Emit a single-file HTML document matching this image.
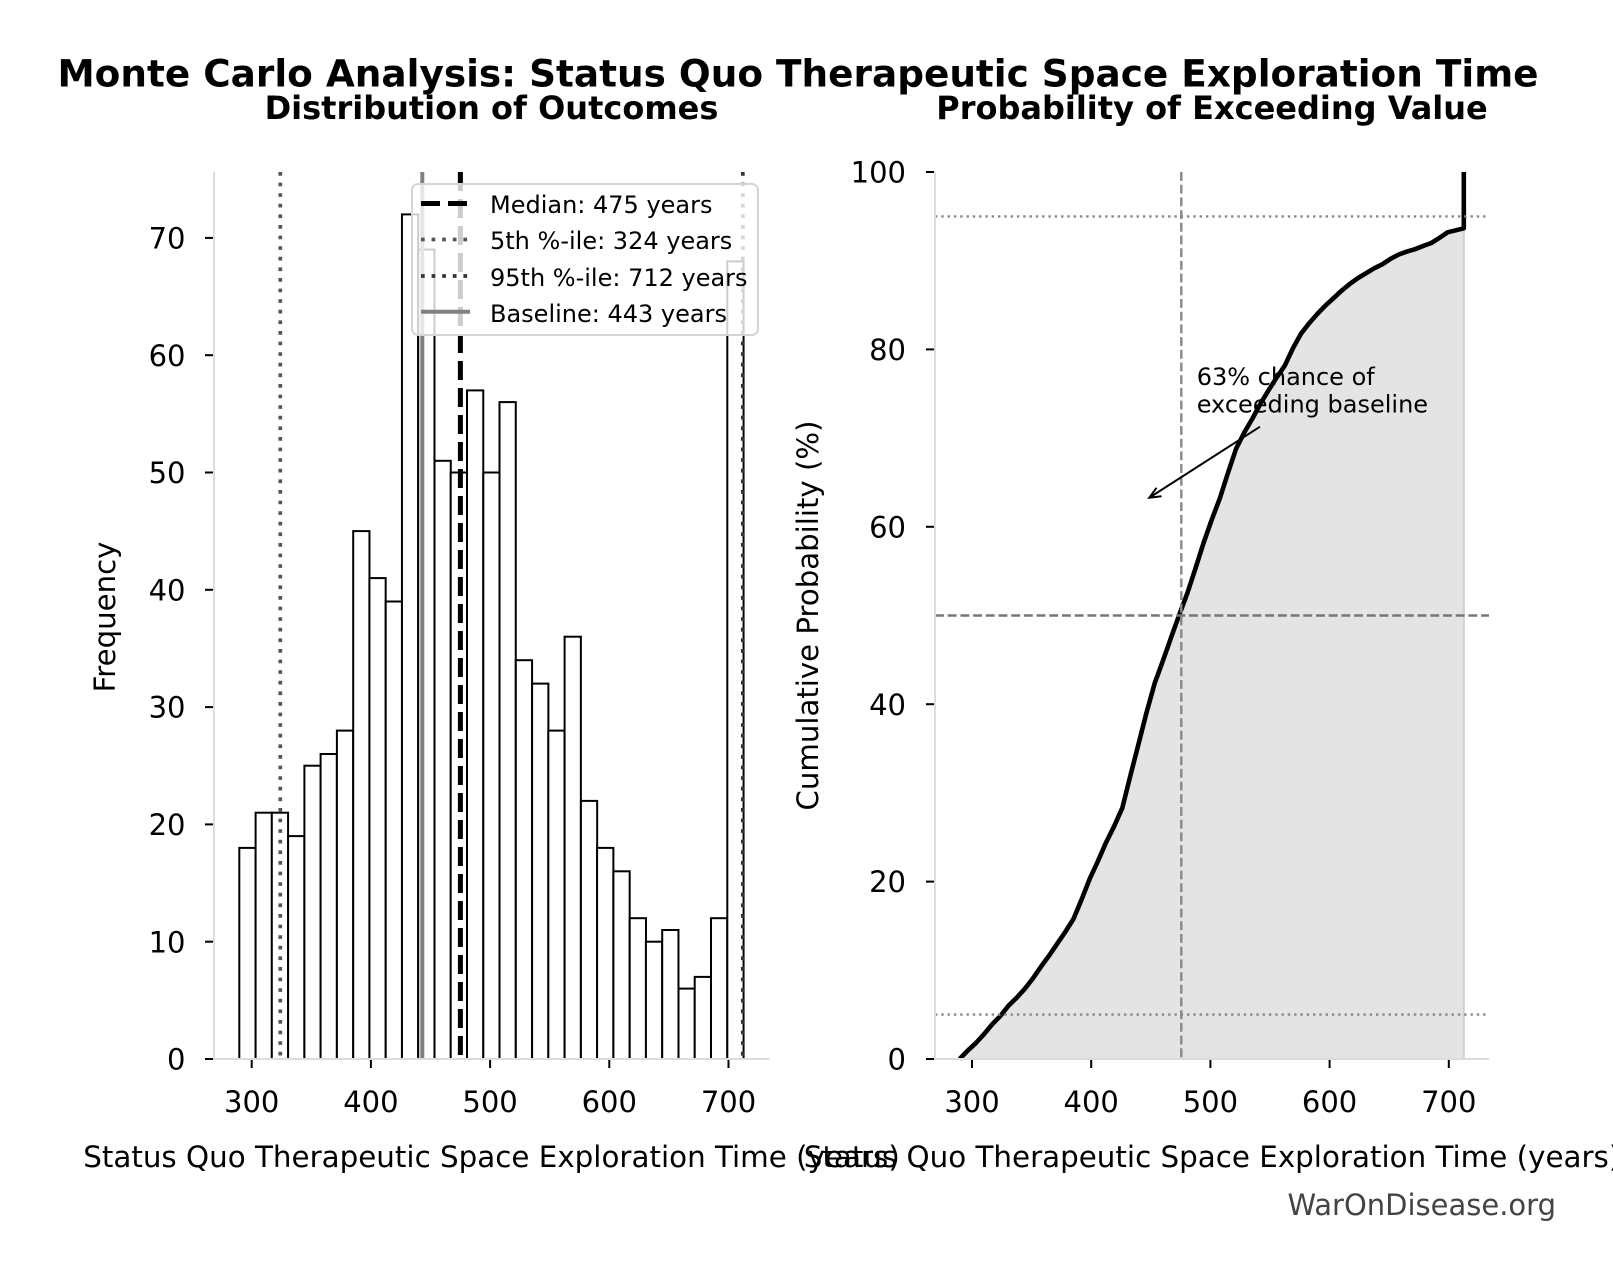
<!DOCTYPE html>
<html><head><meta charset="utf-8"><style>
html,body{margin:0;padding:0;background:#fff;overflow:hidden;}
svg{display:block;}
text{font-family:"DejaVu Sans","Liberation Sans",sans-serif;}
</style></head><body>
<svg width="1613" height="1280" viewBox="0 0 1613 1280" xmlns="http://www.w3.org/2000/svg">
<rect x="0" y="0" width="1613" height="1280" fill="#fff"/>
<!-- Titles -->
<text x="798" y="86.7" font-size="37.4" font-weight="bold" text-anchor="middle">Monte Carlo Analysis: Status Quo Therapeutic Space Exploration Time</text>
<text x="491.5" y="119" font-size="32" font-weight="bold" text-anchor="middle">Distribution of Outcomes</text>
<text x="1212" y="119" font-size="32" font-weight="bold" text-anchor="middle">Probability of Exceeding Value</text>

<!-- LEFT AXES -->
<g fill="#fff" stroke="#000" stroke-width="2">
<rect x="239.3" y="847.9" width="16.27" height="211.1"/>
<rect x="255.6" y="812.7" width="16.27" height="246.3"/>
<rect x="271.8" y="812.7" width="16.27" height="246.3"/>
<rect x="288.1" y="836.1" width="16.27" height="222.9"/>
<rect x="304.4" y="765.7" width="16.27" height="293.3"/>
<rect x="320.6" y="754" width="16.27" height="305"/>
<rect x="336.9" y="730.6" width="16.27" height="328.4"/>
<rect x="353.2" y="531.1" width="16.27" height="527.9"/>
<rect x="369.4" y="578.1" width="16.27" height="480.9"/>
<rect x="385.7" y="601.5" width="16.27" height="457.5"/>
<rect x="401.95" y="214.4" width="16.27" height="844.6"/>
<rect x="418.2" y="249.6" width="16.27" height="809.4"/>
<rect x="434.5" y="460.8" width="16.27" height="598.2"/>
<rect x="450.7" y="472.5" width="16.27" height="586.5"/>
<rect x="467.0" y="390.4" width="16.27" height="668.6"/>
<rect x="483.3" y="472.5" width="16.27" height="586.5"/>
<rect x="499.5" y="402.1" width="16.27" height="656.9"/>
<rect x="515.8" y="660.2" width="16.27" height="398.8"/>
<rect x="532.1" y="683.6" width="16.27" height="375.4"/>
<rect x="548.3" y="730.6" width="16.27" height="328.4"/>
<rect x="564.6" y="636.7" width="16.27" height="422.3"/>
<rect x="580.9" y="800.9" width="16.27" height="258.1"/>
<rect x="597.1" y="847.9" width="16.27" height="211.1"/>
<rect x="613.4" y="871.3" width="16.27" height="187.7"/>
<rect x="629.7" y="918.2" width="16.27" height="140.8"/>
<rect x="645.9" y="941.7" width="16.27" height="117.3"/>
<rect x="662.2" y="930" width="16.27" height="129"/>
<rect x="678.5" y="988.6" width="16.27" height="70.4"/>
<rect x="694.7" y="976.9" width="16.27" height="82.1"/>
<rect x="711.0" y="918.2" width="16.27" height="140.8"/>
<rect x="727.3" y="261.4" width="16.27" height="797.6"/>
</g>
<!-- vertical lines -->
<line x1="460.4" y1="172" x2="460.4" y2="1059" stroke="#000" stroke-width="5" stroke-dasharray="19 8"/>
<line x1="280.3" y1="172" x2="280.3" y2="1059" stroke="#555" stroke-width="3.7" stroke-dasharray="3.7 6.9"/>
<line x1="742.8" y1="172" x2="742.8" y2="1059" stroke="#333" stroke-width="3.7" stroke-dasharray="3.7 6.9"/>
<line x1="422.3" y1="172" x2="422.3" y2="1059" stroke="#808080" stroke-width="4"/>
<!-- spines -->
<line x1="214" y1="172" x2="214" y2="1060" stroke="#dcdcdc" stroke-width="2"/>
<line x1="213" y1="1059" x2="769.5" y2="1059" stroke="#dcdcdc" stroke-width="2"/>
<!-- y ticks -->
<g stroke="#000" stroke-width="2">
<line x1="205" y1="1059" x2="213" y2="1059"/>
<line x1="205" y1="941.7" x2="213" y2="941.7"/>
<line x1="205" y1="824.4" x2="213" y2="824.4"/>
<line x1="205" y1="707.1" x2="213" y2="707.1"/>
<line x1="205" y1="589.8" x2="213" y2="589.8"/>
<line x1="205" y1="472.5" x2="213" y2="472.5"/>
<line x1="205" y1="355.2" x2="213" y2="355.2"/>
<line x1="205" y1="237.9" x2="213" y2="237.9"/>
<line x1="251.7" y1="1060" x2="251.7" y2="1068"/>
<line x1="370.9" y1="1060" x2="370.9" y2="1068"/>
<line x1="490.1" y1="1060" x2="490.1" y2="1068"/>
<line x1="609.3" y1="1060" x2="609.3" y2="1068"/>
<line x1="728.5" y1="1060" x2="728.5" y2="1068"/>
</g>
<g font-size="29" text-anchor="end">
<text x="185.5" y="1069.6">0</text>
<text x="185.5" y="952.3">10</text>
<text x="185.5" y="835">20</text>
<text x="185.5" y="717.7">30</text>
<text x="185.5" y="600.4">40</text>
<text x="185.5" y="483.1">50</text>
<text x="185.5" y="365.8">60</text>
<text x="185.5" y="248.5">70</text>
</g>
<g font-size="29" text-anchor="middle">
<text x="251.7" y="1112">300</text>
<text x="370.9" y="1112">400</text>
<text x="490.1" y="1112">500</text>
<text x="609.3" y="1112">600</text>
<text x="728.5" y="1112">700</text>
</g>
<text x="491.5" y="1167" font-size="29.35" text-anchor="middle">Status Quo Therapeutic Space Exploration Time (years)</text>
<text transform="translate(115,617) rotate(-90)" font-size="29.2" text-anchor="middle">Frequency</text>

<!-- legend -->
<rect x="412" y="184" width="346" height="151" rx="6" ry="6" fill="#fff" fill-opacity="0.8" stroke="#d4d4d4" stroke-width="2"/>
<line x1="421" y1="203.5" x2="470" y2="203.5" stroke="#000" stroke-width="5" stroke-dasharray="19 8"/>
<line x1="421" y1="239.5" x2="470" y2="239.5" stroke="#555" stroke-width="3.7" stroke-dasharray="3.7 6.9"/>
<line x1="421" y1="276" x2="470" y2="276" stroke="#333" stroke-width="3.7" stroke-dasharray="3.7 6.9"/>
<line x1="421" y1="311.7" x2="470" y2="311.7" stroke="#808080" stroke-width="4"/>
<g font-size="24">
<text x="490" y="213">Median: 475 years</text>
<text x="490" y="249">5th %-ile: 324 years</text>
<text x="490" y="286">95th %-ile: 712 years</text>
<text x="490" y="322">Baseline: 443 years</text>
</g>

<!-- RIGHT AXES -->
<polygon fill="#e4e4e4" points="959.6,1059 975.9,1043.0 992.1,1024.4 1008.4,1005.8 1024.7,988.9 1040.9,966.8 1057.2,943.7 1073.5,918.9 1089.7,878.9 1106.0,842.6 1122.3,808.0 1138.5,744.1 1154.8,682.9 1171.0,637.7 1187.3,593.3 1203.6,542.8 1219.8,498.4 1236.1,448.7 1252.4,418.6 1268.6,390.2 1284.9,365.4 1301.2,333.4 1317.4,313.9 1333.7,298.0 1350.0,283.8 1366.2,273.1 1382.5,264.2 1398.8,254.5 1415.0,249.2 1431.3,243.0 1447.6,232.3 1463.8,228.3 1463.8,1059"/>
<line x1="1463.8" y1="228" x2="1463.8" y2="1059" stroke="#d2d2d2" stroke-width="2"/>
<polyline fill="none" stroke="#000" stroke-width="4.6" stroke-linejoin="round" points="959.6,1059 967.8,1050.5 975.9,1043.0 984.0,1034.2 992.1,1024.4 1000.3,1016.0 1008.4,1005.8 1016.5,997.9 1024.7,988.9 1032.8,978.6 1040.9,966.8 1049.0,955.8 1057.2,943.7 1065.3,931.9 1073.5,918.9 1081.6,899.5 1089.7,878.9 1097.9,861.2 1106.0,842.6 1114.1,826.3 1122.3,808.0 1130.4,775.5 1138.5,744.1 1146.6,712.2 1154.8,682.9 1162.9,660.8 1171.0,637.7 1179.2,615.0 1187.3,593.3 1195.4,568.6 1203.6,542.8 1211.7,519.8 1219.8,498.4 1228.0,472.8 1236.1,448.7 1244.2,432.6 1252.4,418.6 1260.5,403.6 1268.6,390.2 1276.8,377.3 1284.9,365.4 1293.0,348.1 1301.2,333.4 1309.3,323.1 1317.4,313.9 1325.6,305.4 1333.7,298.0 1341.8,290.5 1350.0,283.8 1358.1,278.0 1366.2,273.1 1374.4,268.2 1382.5,264.2 1390.6,258.8 1398.8,254.5 1406.9,251.6 1415.0,249.2 1423.1,246.0 1431.3,243.0 1439.4,237.9 1447.6,232.3 1455.7,230.3 1463.8,228.3 1463.8,172"/>
<!-- reference lines -->
<line x1="935" y1="216.4" x2="1489" y2="216.4" stroke="#888" stroke-width="2.4" stroke-dasharray="2.4 3.9"/>
<line x1="935" y1="615.5" x2="1489" y2="615.5" stroke="#777" stroke-width="2.4" stroke-dasharray="8.9 3.8"/>
<line x1="935" y1="1014.6" x2="1489" y2="1014.6" stroke="#888" stroke-width="2.4" stroke-dasharray="2.4 3.9"/>
<line x1="1181.3" y1="172" x2="1181.3" y2="1059" stroke="#888" stroke-width="2.4" stroke-dasharray="8.9 3.8"/>
<!-- spines -->
<line x1="935" y1="172" x2="935" y2="1060" stroke="#dcdcdc" stroke-width="2"/>
<line x1="934" y1="1059" x2="1489" y2="1059" stroke="#dcdcdc" stroke-width="2"/>
<g stroke="#000" stroke-width="2">
<line x1="926" y1="1059" x2="934" y2="1059"/>
<line x1="926" y1="881.6" x2="934" y2="881.6"/>
<line x1="926" y1="704.2" x2="934" y2="704.2"/>
<line x1="926" y1="526.8" x2="934" y2="526.8"/>
<line x1="926" y1="349.4" x2="934" y2="349.4"/>
<line x1="926" y1="172" x2="934" y2="172"/>
<line x1="972" y1="1060" x2="972" y2="1068"/>
<line x1="1091.2" y1="1060" x2="1091.2" y2="1068"/>
<line x1="1210.4" y1="1060" x2="1210.4" y2="1068"/>
<line x1="1329.6" y1="1060" x2="1329.6" y2="1068"/>
<line x1="1448.8" y1="1060" x2="1448.8" y2="1068"/>
</g>
<g font-size="29" text-anchor="end">
<text x="906" y="1069.6">0</text>
<text x="906" y="892.2">20</text>
<text x="906" y="714.8">40</text>
<text x="906" y="537.4">60</text>
<text x="906" y="360">80</text>
<text x="906" y="182.6">100</text>
</g>
<g font-size="29" text-anchor="middle">
<text x="972" y="1112">300</text>
<text x="1091.2" y="1112">400</text>
<text x="1210.4" y="1112">500</text>
<text x="1329.6" y="1112">600</text>
<text x="1448.8" y="1112">700</text>
</g>
<text x="1212" y="1167" font-size="29.35" text-anchor="middle">Status Quo Therapeutic Space Exploration Time (years)</text>
<text transform="translate(818,615.5) rotate(-90)" font-size="29.2" text-anchor="middle">Cumulative Probability (%)</text>

<!-- annotation -->
<text x="1196.7" y="385" font-size="24">63% chance of</text>
<text x="1196.7" y="412.7" font-size="24">exceeding baseline</text>
<line x1="1260" y1="426.7" x2="1149.8" y2="497.4" stroke="#000" stroke-width="2"/>
<polyline points="1156.5,487.8 1149.3,497.7 1161.5,496.3" fill="none" stroke="#000" stroke-width="2"/>

<!-- watermark -->
<text x="1556" y="1215" font-size="29" fill="#444" text-anchor="end">WarOnDisease.org</text>
</svg>
</body></html>
